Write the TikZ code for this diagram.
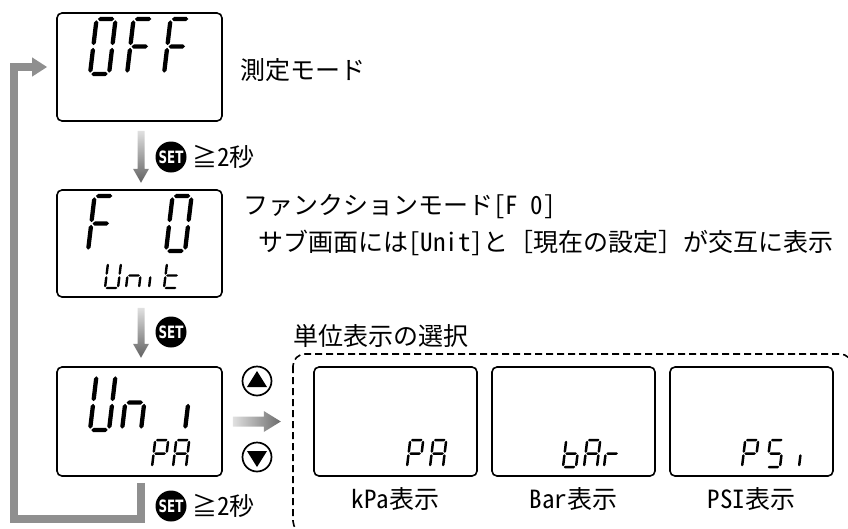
\documentclass[tikz,border=0pt]{standalone}
\usepackage{fontspec}
\usepackage{graphicx}
\setmainfont{Noto Sans CJK JP}
\newfontfamily\hw{Noto Sans CJK JP}[RawFeature=+hwid]
\newfontfamily\setfont{DejaVu Sans}
\usetikzlibrary{arrows.meta}

% hexagonal segment shapes
\newcommand\hseg[3]{\fill (#1,#3) -- (#1+\dT/2,#3-\dT/2) -- (#2-\dT/2,#3-\dT/2) -- (#2,#3) -- (#2-\dT/2,#3+\dT/2) -- (#1+\dT/2,#3+\dT/2) -- cycle;}
\newcommand\vseg[3]{\fill (#1,#2) -- (#1+\dT/2,#2+\dT/2) -- (#1+\dT/2,#3-\dT/2) -- (#1,#3) -- (#1-\dT/2,#3-\dT/2) -- (#1-\dT/2,#2+\dT/2) -- cycle;}
% seven-segment pieces (local coords, origin bottom-left, y negative = up)
\newcommand\segXa{\hseg{\dG}{\dW-\dG}{-\dH}}
\newcommand\segXb{\vseg{\dW}{-\dH+\dG}{-\dH/2-\dG}}
\newcommand\segXc{\vseg{\dW}{-\dH/2+\dG}{-\dG}}
\newcommand\segXd{\hseg{\dG}{\dW-\dG}{0}}
\newcommand\segXe{\vseg{0}{-\dH/2+\dG}{-\dG}}
\newcommand\segXf{\vseg{0}{-\dH+\dG}{-\dH/2-\dG}}
\newcommand\segXg{\hseg{\dG}{\dW-\dG}{-\dH/2}}
% \sdig{x}{y bottom}{W}{H}{thickness}{segments}
\newcommand\sdig[6]{%
  \begin{scope}[shift={(#1,#2)},xslant=0.12]
    \def\dW{#3}\def\dH{#4}\def\dT{#5}\def\dG{#5*0.3}%
    \foreach \s in {#6}{\csname segX\s\endcsname}
  \end{scope}}
\newcommand\bigd[3]{\sdig{#1}{#2}{19}{55}{4.3}{#3}}
\newcommand\smalld[3]{\sdig{#1}{#2}{13}{27}{2.5}{#3}}
\newcommand\tinyd[3]{\sdig{#1}{#2}{13}{25}{2.4}{#3}}

\tikzset{
  lcd/.style={draw, line width=1.6pt, rounded corners=5pt, inner sep=0pt,
    minimum width=165pt, minimum height=108pt},
  sublcd/.style={lcd, minimum width=163pt, minimum height=109pt},
  txt/.style={anchor=west, inner sep=0pt, font=\fontsize{25}{28}\selectfont},
  lbl/.style={inner sep=0pt, font=\fontsize{25}{28}\selectfont},
  setbtn/.style={circle, fill=black, minimum size=31pt, inner sep=0pt, text=white,
    font=\setfont\bfseries\fontsize{17}{17}\selectfont},
  arrbtn/.style={circle, draw, line width=1.7pt, minimum size=29pt, inner sep=0pt},
  loopln/.style={draw=black!44, line width=8pt, line join=miter,
    -{Triangle[width=18pt,length=15pt]}},
  dashbox/.style={draw, line width=1.6pt, dash pattern=on 7pt off 4pt, rounded corners=12pt},
}

\begin{document}
\begin{tikzpicture}[x=1pt,y=-1pt]
\useasboundingbox (0,0) rectangle (848,528);
\clip (0,0) rectangle (848,528);

% LCD boxes
\node[lcd] (off) at (139.5,67) {};
\node[lcd, minimum height=107pt] (f0) at (139.5,243.5) {};
\node[lcd, minimum height=109pt] (uni) at (139.5,421.5) {};
\node[sublcd] (kpa) at (395.5,421.5) {};
\node[sublcd] (bar) at (573.5,421.5) {};
\node[sublcd] (psi) at (751.5,421.5) {};

% OFF
\bigd{90}{74}{a,b,c,d,e,f}
\bigd{127}{74}{a,e,f,g}
\bigd{164}{74}{a,e,f,g}
% F 0 / Unit
\bigd{88}{251}{a,e,f,g}
\bigd{166}{251}{a,b,c,d,e,f}
\tinyd{105}{288}{b,c,d,e,f}
\tinyd{126}{288}{c,e,g}
\tinyd{149}{288}{e}
\tinyd{164}{288}{d,e,f,g}
% Uni / PA
\bigd{90}{430}{b,c,d,e,f}
\bigd{122}{430}{c,e,g}
\bigd{185}{430}{e}
\smalld{152}{467}{a,b,e,f,g}
\smalld{173}{467}{a,b,c,e,f,g}
% kPa
\smalld{407}{467}{a,b,e,f,g}
\smalld{430}{467}{a,b,c,e,f,g}
% bar
\smalld{563}{467}{c,d,e,f,g}
\smalld{584}{467}{a,b,c,e,f,g}
\smalld{604}{467}{e,g}
% PSi
\smalld{742}{467}{a,b,e,f,g}
\smalld{767}{467}{a,c,d,f,g}
\smalld{799}{467}{e}

% texts
\node[txt] (tOff) at (240,70) {測定モード};
\node[txt] (tF0) at (243,207) {ファンクションモード{\hw [F 0]}};
\node[txt] (tSub) at (258,243) {サブ画面には{\hw [Unit]}と［現在の設定］が交互に表示};
\node[txt] (tSel) at (293,336) {単位表示の選択};
\node[lbl] (lk) at (395.5,499) {{\hw kPa}表示};
\node[lbl] (lb) at (573.5,499) {{\hw Bar}表示};
\node[lbl] (lp) at (751.5,499) {{\hw PSI}表示};

% down arrows
\coordinate (a1) at ([xshift=1.5pt,yshift=-9pt]off.south);
\coordinate (a2) at ([xshift=1.5pt,yshift=-10pt]f0.south);
\shade[top color=black!12, bottom color=black!62]
  (a1) ++(-3.5,0) -- ++(0,38) -- ++(-4.5,0) -- ++(8,14) -- ++(8,-14) -- ++(-4.5,0) -- ++(0,-38) -- cycle;
\shade[top color=black!12, bottom color=black!62]
  (a2) ++(-3.5,0) -- ++(0,36) -- ++(-4.5,0) -- ++(8,14) -- ++(8,-14) -- ++(-4.5,0) -- ++(0,-36) -- cycle;

% SET buttons and timing
\node[setbtn] (s1) at (171,157) {\scalebox{0.7}[1]{SET}};
\node[txt] (g1) at (192,157) {≧{\hw 2}秒};
\node[setbtn] (s2) at (171,332) {\scalebox{0.7}[1]{SET}};
\node[setbtn] (s3) at (171,506) {\scalebox{0.7}[1]{SET}};
\node[txt] (g3) at (192,506) {≧{\hw 2}秒};

% up / down buttons
\node[arrbtn] (up) at (257,381) {};
\node[arrbtn] (dn) at (257,457) {};
\fill (up.center) ++(0,-10) -- ++(10,16) -- ++(-20,0) -- cycle;
\fill (dn.center) ++(0,10) -- ++(10,-16) -- ++(-20,0) -- cycle;

% right arrow
\coordinate (ra) at ([xshift=10pt]uni.east);
\shade[left color=black!12, right color=black!58]
  (ra) ++(0,-5) -- ++(31,0) -- ++(0,-5.5) -- ++(17,10.5) -- ++(-17,10.5) -- ++(0,-5.5) -- ++(-31,0) -- cycle;

% selection frame
\draw[dashbox] (293,354) rectangle (852,533);

% return loop
\coordinate (lA) at ([xshift=1.5pt,yshift=-6pt]uni.south);
\coordinate (lB) at ([xshift=-9pt]off.west|-0,67);
\draw[loopln] (lA) -- (141,519) -| (14,67) -- (lB);
\end{tikzpicture}
\end{document}
